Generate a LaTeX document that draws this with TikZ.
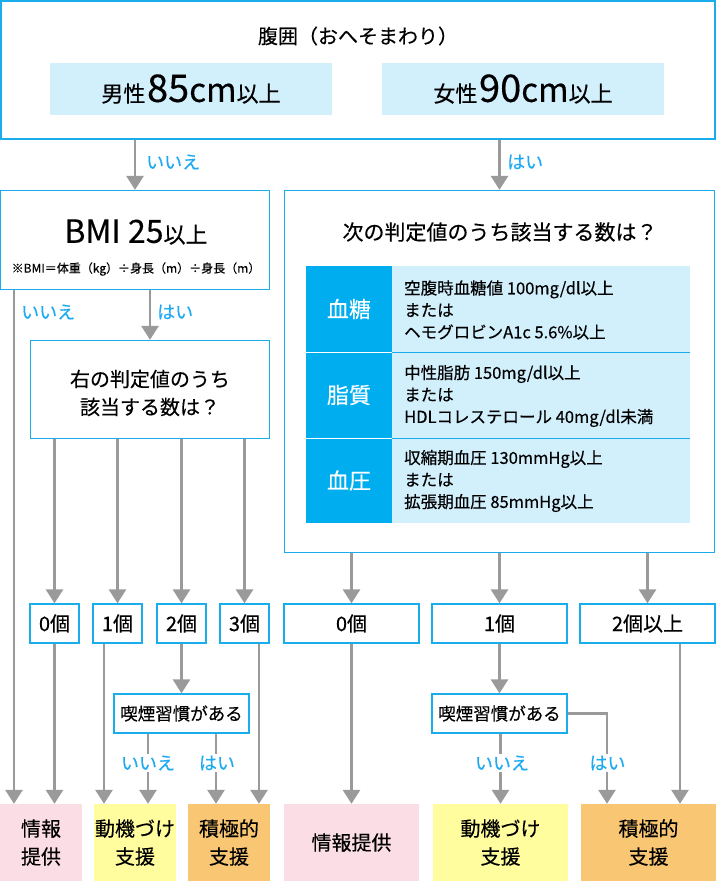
\documentclass[tikz,border=0pt]{standalone}
\usepackage{fontspec}
\setmainfont{Noto Sans CJK JP}[FakeBold=0.35]
\usetikzlibrary{arrows.meta,calc}
\definecolor{bcyan}{HTML}{1AADEB}
\definecolor{lightb}{HTML}{D2EFFC}
\definecolor{darkb}{HTML}{00AEEF}
\definecolor{agray}{HTML}{9A9A9A}
\definecolor{lblue}{HTML}{1EAAF1}
\definecolor{pinkb}{HTML}{FBDDE5}
\definecolor{yellb}{HTML}{FFFD9E}
\definecolor{orab}{HTML}{F9C773}
\newcommand{\fs}[1]{\fontsize{#1}{#1}\selectfont}
\tikzset{
  box/.style={draw=bcyan, line width=1.3pt, fill=white, inner sep=0pt},
  arr/.style={draw=agray, line width=2.8pt, -{Triangle[length=14pt,width=17pt]}},
  lab/.style={text=lblue, font=\fs{18}, inner sep=1pt},
  labw/.style={lab, fill=white, inner sep=2pt},
  txt/.style={inner sep=0pt, text=black},
  dcell/.style={fill=darkb, text=white, font=\fs{22}, minimum width=86pt, inner sep=0pt},
  lcell/.style={fill=lightb, minimum width=298pt, inner sep=0pt},
  celltext/.style={anchor=west, align=left, inner sep=0pt, font=\fontsize{16.5}{22}\selectfont},
  endbox/.style={inner sep=0pt, minimum height=77pt, align=center, font=\fontsize{20}{28}\selectfont},
  numbox/.style={box, minimum height=39pt, font=\fs{20}},
}
\begin{document}
\begin{tikzpicture}[x=1pt,y=-1pt]
\useasboundingbox (0,0) rectangle (716,881);
% top box
\node[box, minimum width=714pt, minimum height=138pt] (top) at (358,70) {};
\node[txt, font=\fs{20}] (toptitle) at (358,36) {腹囲（おへそまわり）};
\node[fill=lightb, minimum width=282pt, minimum height=52pt, inner sep=0pt] (male) at (191,89)
  {{\fs{22}男性}\,{\fs{38}85}{\fs{33}cm}{\fs{22}以上}};
\node[fill=lightb, minimum width=282pt, minimum height=52pt, inner sep=0pt] (female) at (523,89)
  {{\fs{22}女性}\,{\fs{38}90}{\fs{33}cm}{\fs{22}以上}};
% BMI box
\node[box, minimum width=269pt, minimum height=99pt] (bmi) at (135,240) {};
\node[txt] (bmitxt) at (136,232) {{\fs{32}BMI 25}{\fs{22}以上}};
\node[txt, font=\fs{12}] (bminote) at (136,269) {※BMI＝体重（kg）÷身長（m）÷身長（m）};
% judge box
\node[box, minimum width=239pt, minimum height=98pt] (judge) at (150,389.5) {};
\node[txt, align=center, font=\fontsize{20}{28}\selectfont] (judgetxt) at (150,393) {右の判定値のうち\\該当する数は？};
% big right box
\node[box, minimum width=430pt, minimum height=362pt] (big) at (499.5,371.5) {};
\node[txt, font=\fs{21}] (bigtitle) at (500,232) {次の判定値のうち該当する数は？};
% table
\node[lcell, minimum height=86pt] (t1) at (541,309) {};
\node[lcell, minimum height=86pt] (t2) at (541,395) {};
\node[lcell, minimum height=85pt] (t3) at (541,480.5) {};
\node[dcell, minimum height=86pt] (d1) at (349,309) {血糖};
\node[dcell, minimum height=86pt] (d2) at (349,395) {脂質};
\node[dcell, minimum height=85pt] (d3) at (349,480.5) {血圧};
\draw[bcyan, line width=1pt] (t1.south west) -- (t1.south east);
\draw[bcyan, line width=1pt] (t2.south west) -- (t2.south east);
\draw[white, line width=1pt] (d1.south west) -- (d1.south east);
\draw[white, line width=1pt] (d2.south west) -- (d2.south east);
\node[celltext] (c1) at (404,310) {空腹時血糖値 100mg/dl以上\\または\\ヘモグロビンA1c 5.6\%以上};
\node[celltext] (c2) at (404,396) {中性脂肪 150mg/dl以上\\または\\HDLコレステロール 40mg/dl未満};
\node[celltext] (c3) at (404,481) {収縮期血圧 130mmHg以上\\または\\拡張期血圧 85mmHg以上};
% number boxes left
\node[numbox, minimum width=49pt] (n0) at (54.5,623.5) {0個};
\node[numbox, minimum width=49pt] (n1) at (117.5,623.5) {1個};
\node[numbox, minimum width=49pt] (n2) at (181.5,623.5) {2個};
\node[numbox, minimum width=49pt] (n3) at (244.5,623.5) {3個};
% number boxes right
\node[numbox, minimum width=135pt] (r0) at (351.5,623.5) {0個};
\node[numbox, minimum width=135pt] (r1) at (499.5,623.5) {1個};
\node[numbox, minimum width=135pt] (r2) at (647.5,623.5) {2個以上};
% smoking boxes
\node[box, minimum width=135pt, minimum height=39pt, font=\fs{17.5}] (smoke1) at (181.5,713.5) {喫煙習慣がある};
\node[box, minimum width=135pt, minimum height=39pt, font=\fs{17.5}] (smoke2) at (499.5,713.5) {喫煙習慣がある};
% end boxes
\node[endbox, fill=pinkb, minimum width=82pt] (info1) at (41,842.5) {情報\\提供};
\node[endbox, fill=yellb, minimum width=82pt] (motiv1) at (135,842.5) {動機づけ\\支援};
\node[endbox, fill=orab, minimum width=82pt] (act1) at (229,842.5) {積極的\\支援};
\node[endbox, fill=pinkb, minimum width=135pt] (info2) at (351.5,842.5) {情報提供};
\node[endbox, fill=yellb, minimum width=135pt] (motiv2) at (500.5,842.5) {動機づけ\\支援};
\node[endbox, fill=orab, minimum width=135pt] (act2) at (648.5,842.5) {積極的\\支援};
% helper coordinates
\coordinate (x14) at (14,0);
\coordinate (x104) at (104,0);
\coordinate (x148) at (148,0);
\coordinate (x216) at (216,0);
\coordinate (x259) at (259,0);
\coordinate (x607) at (607,0);
\coordinate (x680) at (680,0);
% connectors top
\draw[arr] (bmi.north |- top.south) -- (bmi.north);
\draw[arr] (big.north |- top.south) -- (big.north);
\node[lab, anchor=west] (lab1) at (145,162) {いいえ};
\node[lab, anchor=west] (lab2) at (506,162) {はい};
% BMI
\draw[arr] (bmi.south -| x14) -- (info1.north -| x14);
\draw[arr] (bmi.south -| judge.north) -- (judge.north);
\node[lab, anchor=west] (lab3) at (20,312) {いいえ};
\node[lab, anchor=west] (lab4) at (156,312) {はい};
% judge to numbers
\draw[arr] (judge.south -| n0.north) -- (n0.north);
\draw[arr] (judge.south -| n1.north) -- (n1.north);
\draw[arr] (judge.south -| n2.north) -- (n2.north);
\draw[arr] (judge.south -| n3.north) -- (n3.north);
\draw[arr] (n0.south) -- (n0.south |- info1.north);
\draw[arr] (n1.south -| x104) -- (motiv1.north -| x104);
\draw[arr] (n2.south) -- (n2.south |- smoke1.north);
\draw[arr] (n3.south -| x259) -- (act1.north -| x259);
\draw[arr] (smoke1.south -| x148) -- (motiv1.north -| x148);
\draw[arr] (smoke1.south -| x216) -- (act1.north -| x216);
\node[labw] (lab5) at (148,763) {いいえ};
\node[labw] (lab6) at (217,763) {はい};
% right side
\draw[arr] (big.south -| r0.north) -- (r0.north);
\draw[arr] (big.south -| r1.north) -- (r1.north);
\draw[arr] (big.south -| r2.north) -- (r2.north);
\draw[arr] (r0.south) -- (r0.south |- info2.north);
\draw[arr] (r1.south) -- (r1.south |- smoke2.north);
\draw[arr] (r2.south -| x680) -- (act2.north -| x680);
\draw[arr] (smoke2.south -| motiv2.north) -- (motiv2.north);
\draw[arr] (smoke2.east) -| (act2.north -| x607);
\node[labw] (lab7) at (502,763) {いいえ};
\node[labw] (lab8) at (607.5,763) {はい};
\end{tikzpicture}
\end{document}
